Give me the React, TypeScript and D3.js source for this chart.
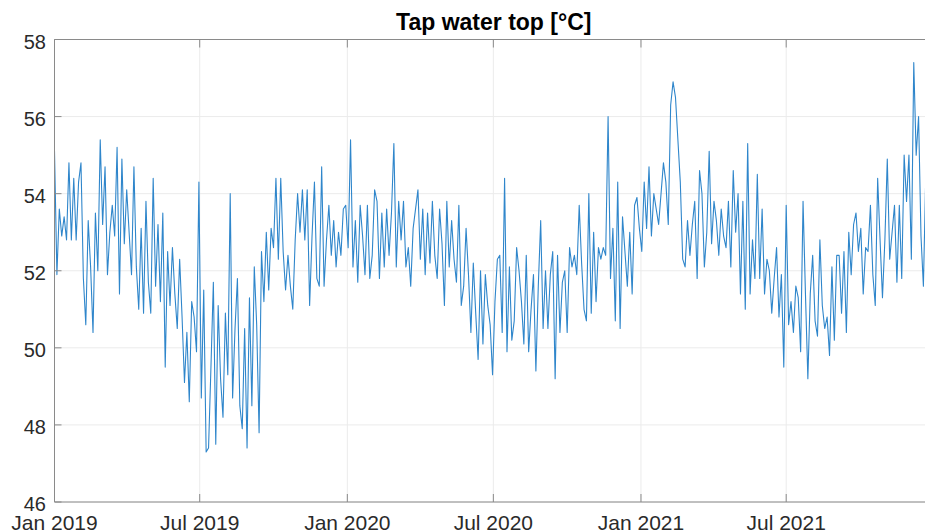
import React from 'react'
import * as d3 from 'd3'

// daily readings sampled every 3 days, starting 1 Jan 2019
const startDate = '2019-01-01'
const stepDays = 3

const temp2019 = [
  55.1, 51.9, 53.6, 52.9, 53.4, 52.8, 54.8, 52.8, 54.4, 52.8, 54.3, 54.8, 51.8, 50.6, 53.3, 52.1,
  50.4, 53.5, 52.0, 55.4, 53.2, 54.7, 51.9, 53.0, 53.7, 52.9, 55.2, 51.4, 54.9, 52.7, 54.1, 53.0,
  51.9, 54.7, 52.1, 51.0, 53.1, 50.9, 53.8, 51.7, 50.9, 54.4, 51.6, 53.2, 51.2, 53.5, 49.5, 52.5,
  51.1, 52.6, 51.4, 50.5, 52.3, 50.8, 49.1, 50.4, 48.6, 51.2, 50.8, 49.9, 54.3, 48.7, 51.5, 47.3,
  47.4, 49.5, 51.7, 47.5, 51.1, 49.2, 48.2, 50.9, 49.3, 54.0, 48.7, 50.5, 51.8, 48.5, 47.9, 50.5,
  47.4, 51.3, 48.5, 52.1, 50.6, 47.8, 52.5, 51.2, 53.0, 51.5, 53.1, 52.6, 54.4, 52.3, 54.4, 52.5,
  51.5, 52.4, 51.6, 51.0, 52.8, 54.0, 53.0, 54.1, 52.8, 54.1, 51.1, 52.9, 54.3, 51.8, 51.6, 54.7,
  51.6, 52.8, 53.7, 52.4, 53.3, 52.1, 53.0, 52.4, 53.6, 53.7,
]

const temp2020 = [
  52.6, 55.4, 52.1, 53.3, 51.7, 53.7, 52.9, 51.9, 53.7, 51.8, 52.4, 54.1, 53.8, 51.8, 53.5, 52.1,
  53.6, 52.4, 53.5, 55.3, 52.1, 53.8, 52.8, 53.8, 52.1, 52.6, 51.6, 53.1, 53.6, 54.1, 52.3, 53.6,
  51.9, 53.5, 52.2, 53.8, 52.4, 51.8, 53.6, 52.7, 51.1, 53.8, 52.1, 53.3, 52.3, 51.7, 53.7, 51.1,
  51.6, 53.1, 51.9, 50.4, 52.2, 50.9, 49.7, 52.0, 50.1, 51.9, 51.1, 50.6, 49.3, 51.2, 52.3, 52.4,
  50.4, 54.4, 49.9, 52.1, 50.2, 50.7, 52.6, 52.0, 51.2, 50.1, 52.4, 49.9, 51.0, 51.9, 49.4, 51.6,
  53.3, 50.5, 52.0, 50.5, 51.9, 52.5, 49.2, 52.4, 50.4, 51.7, 52.0, 50.4, 52.6, 52.1, 52.4, 51.9,
  53.7, 52.2, 51.0, 50.7, 54.0, 50.9, 53.0, 51.2, 52.6, 52.3, 52.6, 52.4, 56.0, 51.8, 53.1, 50.7,
  54.3, 50.5, 53.4, 52.5, 51.6, 53.0, 51.4, 53.7, 53.9, 53.1,
]

const temp2021 = [
  52.5, 54.3, 53.1, 54.7, 52.9, 54.0, 53.6, 53.2, 54.0, 54.8, 54.3, 53.2, 56.3, 56.9, 56.5, 55.4,
  54.3, 52.3, 52.1, 53.3, 52.4, 53.2, 53.8, 51.8, 54.6, 54.0, 52.1, 53.0, 55.1, 52.7, 53.8, 53.3,
  52.4, 53.6, 52.9, 52.6, 53.8, 52.1, 54.6, 53.0, 54.0, 51.4, 53.8, 51.0, 55.3, 51.4, 52.8, 51.8,
  54.5, 51.8, 53.6, 51.4, 52.3, 52.0, 50.9, 51.8, 52.6, 50.8, 51.9, 49.5, 53.7, 50.6, 51.2, 50.4,
  51.6, 51.3, 49.9, 53.8, 51.4, 49.2, 51.4, 52.4, 50.7, 50.3, 52.8, 51.1, 50.5, 50.8, 49.8, 52.1,
  50.2, 52.4, 52.4, 50.9, 52.5, 50.4, 53.0, 51.9, 53.2, 53.5, 52.5, 53.1, 51.4, 52.6, 52.5, 53.7,
  51.9, 51.1, 54.4, 52.8, 51.3, 52.8, 54.9, 52.3, 53.0, 53.7, 51.7, 53.7, 51.8, 55.0, 53.8, 55.0,
  52.3, 57.4, 55.0, 56.0, 52.9, 51.6, 54.5,
]

const xTickLabels = ['Jan 2019', 'Jul 2019', 'Jan 2020', 'Jul 2020', 'Jan 2021', 'Jul 2021']
const yTickValues = [46, 48, 50, 52, 54, 56, 58]
const title = 'Tap water top [°C]'

export default function App() {
  const W = 925
  const H = 532
  const plotLeft = 54.5
  const plotTop = 39.5
  const plotBottom = 502

  const parseDay = d3.timeParse('%Y-%m-%d')
  const parseTick = d3.timeParse('%b %Y')
  const t0 = parseDay(startDate)!
  const t1 = parseDay('2021-12-31')!

  const values = [...temp2019, ...temp2020, ...temp2021]
  const data = values.map((v, i) => ({ date: d3.timeDay.offset(t0, i * stepDays), value: v }))

  const dayCount = d3.timeDay.count(t0, t1)
  const x = d3.scaleTime().domain([t0, t1]).range([plotLeft, plotLeft + dayCount * 0.8023])
  const y = d3.scaleLinear().domain([46, 58]).range([plotBottom, plotTop])
  const plotRight = x.range()[1]

  const line = d3.line<{ date: Date; value: number }>()
    .x(d => x(d.date))
    .y(d => y(d.value))

  const xTicks = xTickLabels.map(l => ({ label: l, pos: x(parseTick(l)!) }))

  const axisColor = '#8a8a8a'
  const gridColor = '#ebebeb'
  const textColor = '#2a2a2a'
  const font = '"Liberation Sans", Arial, Helvetica, sans-serif'

  return (
    <svg width={W} height={H} style={{ position: 'absolute', left: 0, top: 0, background: '#fff' }}>
      <defs>
        <clipPath id="plot">
          <rect x={plotLeft} y={plotTop} width={plotRight - plotLeft} height={plotBottom - plotTop} />
        </clipPath>
      </defs>

      {/* grid */}
      {yTickValues.map(v => (
        <line key={'gy' + v} x1={plotLeft} x2={plotRight} y1={y(v)} y2={y(v)} stroke={gridColor} />
      ))}
      {xTicks.map(t => (
        <line key={'gx' + t.label} x1={t.pos} x2={t.pos} y1={plotTop} y2={plotBottom} stroke={gridColor} />
      ))}

      {/* data */}
      <path d={line(data) ?? ''} fill="none" stroke="#2f86cb" strokeWidth={1.1}
        strokeLinejoin="round" clipPath="url(#plot)" />

      {/* box */}
      <line x1={plotLeft} x2={plotLeft} y1={plotTop} y2={plotBottom} stroke={axisColor} />
      <line x1={plotLeft} x2={plotRight} y1={plotTop} y2={plotTop} stroke={axisColor} />
      <line x1={plotLeft} x2={plotRight} y1={plotBottom} y2={plotBottom} stroke={axisColor} />

      {/* y ticks */}
      {yTickValues.map(v => (
        <g key={'yt' + v}>
          <line x1={plotLeft} x2={plotLeft + 7} y1={y(v)} y2={y(v)} stroke={axisColor} />
          <text x={46} y={y(v) + 9} textAnchor="end" fontFamily={font} fontSize={20} fill={textColor}>{v}</text>
        </g>
      ))}

      {/* x ticks */}
      {xTicks.map(t => (
        <g key={'xt' + t.label}>
          <line x1={t.pos} x2={t.pos} y1={plotBottom} y2={plotBottom - 8} stroke={axisColor} />
          <line x1={t.pos} x2={t.pos} y1={plotTop} y2={plotTop + 8} stroke={axisColor} />
          <text x={t.pos} y={530} textAnchor="middle" fontFamily={font} fontSize={21} fill={textColor}>{t.label}</text>
        </g>
      ))}

      <text x={(plotLeft + plotRight) / 2} y={30} textAnchor="middle" fontFamily={font}
        fontSize={23} fontWeight="bold" fill="#000">{title}</text>
    </svg>
  )
}
